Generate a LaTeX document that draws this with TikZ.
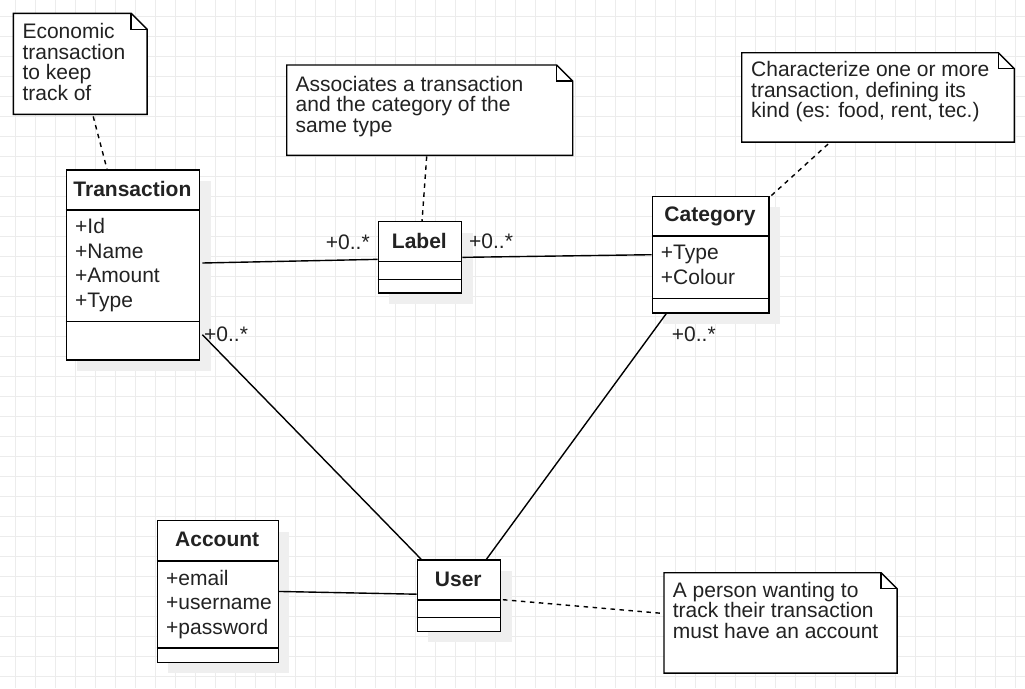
\documentclass[tikz,border=0pt]{standalone}
\usepackage{fontspec}
\setmainfont{Liberation Sans}
\usetikzlibrary{shadows,calc}
\definecolor{gridc}{HTML}{ECECEC}
\definecolor{shadc}{HTML}{EFEFEF}
\definecolor{txtc}{HTML}{222222}
\begin{document}
\begin{tikzpicture}[x=1pt,y=-1pt,
  gridline/.style={draw=gridc,line width=1pt},
  cls/.style={draw=black,fill=white,line width=1.4pt,rectangle,inner sep=0pt,anchor=north west,
    general shadow={fill=shadc,shadow xshift=11pt,shadow yshift=-11pt}},
  sep/.style={draw=black,line width=1.4pt},
  ttl/.style={font=\bfseries\fontsize{21}{24.5}\selectfont,text=txtc,inner sep=0pt,anchor=base},
  attr/.style={font=\fontsize{21}{24.5}\selectfont,text=txtc,inner sep=0pt,anchor=north west,align=left},
  notebox/.style={draw=none,rectangle,inner sep=0pt,anchor=north west},
  noteline/.style={draw=black,fill=white,line width=1.4pt,line join=miter},
  notetxt/.style={font=\fontsize{21}{20.6}\selectfont,text=txtc,inner sep=0pt,anchor=north west,align=left},
  mult/.style={font=\fontsize{21}{24}\selectfont,text=txtc,inner sep=0pt,anchor=base west},
  conn/.style={draw=black,line width=1.4pt},
  dconn/.style={draw=black,line width=1.4pt,dash pattern=on 4.5pt off 4.5pt}]
\useasboundingbox (0,0) rectangle (1025,688);
\fill[white] (0,0) rectangle (1025,688);
\foreach \x in {15.5,35.5,...,1015.5} \draw[gridline] (\x,0) -- (\x,688);
\foreach \y in {16,36,...,676} \draw[gridline] (0,\y) -- (1025,\y);

% ---------- notes ----------
\newcommand{\drawnote}[1]{%
  \draw[noteline] (#1.north west) -- ([xshift=-16pt]#1.north east) -- ([yshift=-16pt]#1.north east)
    -- (#1.south east) -- (#1.south west) -- cycle;
  \draw[noteline,fill=none] ([xshift=-16pt]#1.north east) -- ([xshift=-16pt,yshift=-16pt]#1.north east)
    -- ([yshift=-16pt]#1.north east);}

\node[notebox,minimum width=133.4pt,minimum height=100.7pt] (n1) at (13.3,13.3) {};
\drawnote{n1}
\node[notetxt] (n1t) at (22.3,23.3) {Economic\\transaction\\to keep\\track of};

\node[notebox,minimum width=285.6pt,minimum height=90pt] (n2) at (286.7,65) {};
\drawnote{n2}
\node[notetxt] (n2t) at (295.5,75.8) {Associates a transaction\\and the category of the\\same type};

\node[notebox,minimum width=272.3pt,minimum height=89pt] (n3) at (741.7,52.7) {};
\drawnote{n3}
\node[notetxt] (n3t) at (751,61) {Characterize one or more\\transaction, defining its\\kind (es: food, rent, tec.)};

\node[notebox,minimum width=232.7pt,minimum height=100pt] (n4) at (664,572.7) {};
\drawnote{n4}
\node[notetxt] (n4t) at (672.7,581.7) {A person wanting to\\track their transaction\\must have an account};

% ---------- classes ----------
% Transaction
\node[cls,minimum width=133.3pt,minimum height=190pt] (tr) at (65.7,169.3) {};
\draw[sep] ([yshift=-40.7pt]tr.north west) -- ([yshift=-40.7pt]tr.north east);
\draw[sep] ([yshift=39.3pt]tr.south west) -- ([yshift=39.3pt]tr.south east);
\node[ttl] (trT) at (132.4,196) {Transaction};
\node[attr] (trA) at (75,218.3) {+Id\\+Name\\+Amount\\+Type};

% Label
\node[cls,minimum width=83.3pt,minimum height=71.3pt] (lb) at (377.7,221) {};
\draw[sep] ([yshift=-40.7pt]lb.north west) -- ([yshift=-40.7pt]lb.north east);
\draw[sep] ([yshift=14pt]lb.south west) -- ([yshift=14pt]lb.south east);
\node[ttl] (lbT) at (419.4,248.3) {Label};

% Category
\node[cls,minimum width=116.6pt,minimum height=116.6pt] (ct) at (651.7,195.7) {};
\draw[sep] ([yshift=-40.3pt]ct.north west) -- ([yshift=-40.3pt]ct.north east);
\draw[sep] ([yshift=15pt]ct.south west) -- ([yshift=15pt]ct.south east);
\node[ttl] (ctT) at (710,221.7) {Category};
\node[attr] (ctA) at (660.7,245) {+Type\\+Colour};

% Account
\node[cls,minimum width=121pt,minimum height=141.5pt] (ac) at (156.7,520) {};
\draw[sep] ([yshift=-41pt]ac.north west) -- ([yshift=-41pt]ac.north east);
\draw[sep] ([yshift=15pt]ac.south west) -- ([yshift=15pt]ac.south east);
\node[ttl] (acT) at (217.2,546) {Account};
\node[attr] (acA) at (166,570) {+email\\+username\\+password};

% User
\node[cls,minimum width=83.3pt,minimum height=71.4pt] (us) at (416.7,559.3) {};
\draw[sep] ([yshift=-40.7pt]us.north west) -- ([yshift=-40.7pt]us.north east);
\draw[sep] ([yshift=14.7pt]us.south west) -- ([yshift=14.7pt]us.south east);
\node[ttl] (usT) at (458.3,586) {User};

% ---------- connectors ----------
\draw[conn] ([shift={(2pt,2pt)}]tr.east) -- ([yshift=-2pt]lb.west);
\draw[conn] (lb.east) -- (ct.west);
\draw[conn] ([shift={(2pt,26pt)}]tr.south east) -- ([xshift=4.5pt]us.north west);
\draw[conn] ([xshift=14.5pt]ct.south west) -- ([xshift=-15pt]us.north east);
\draw[conn] (ac.east) -- ([yshift=1.5pt]us.west);
\draw[dconn] ([shift={(1.5pt,-4pt)}]us.east) -- ([yshift=9.4pt]n4.west);
\draw[dconn] ([shift={(13pt,-2pt)}]n1.south) -- ([xshift=-26pt]tr.north);
\draw[dconn] ([shift={(-3pt,-1pt)}]n2.south) -- ([xshift=2pt]lb.north);
\draw[dconn] ([shift={(-50pt,-2pt)}]n3.south) -- ([xshift=1.5pt]ct.north east);

% ---------- multiplicities ----------
\node[mult] (m1) at (325.7,249) {+0..*};
\node[mult] (m2) at (469,248.7) {+0..*};
\node[mult] (m3) at (204,341) {+0..*};
\node[mult] (m4) at (671.7,341.5) {+0..*};
\end{tikzpicture}
\end{document}
